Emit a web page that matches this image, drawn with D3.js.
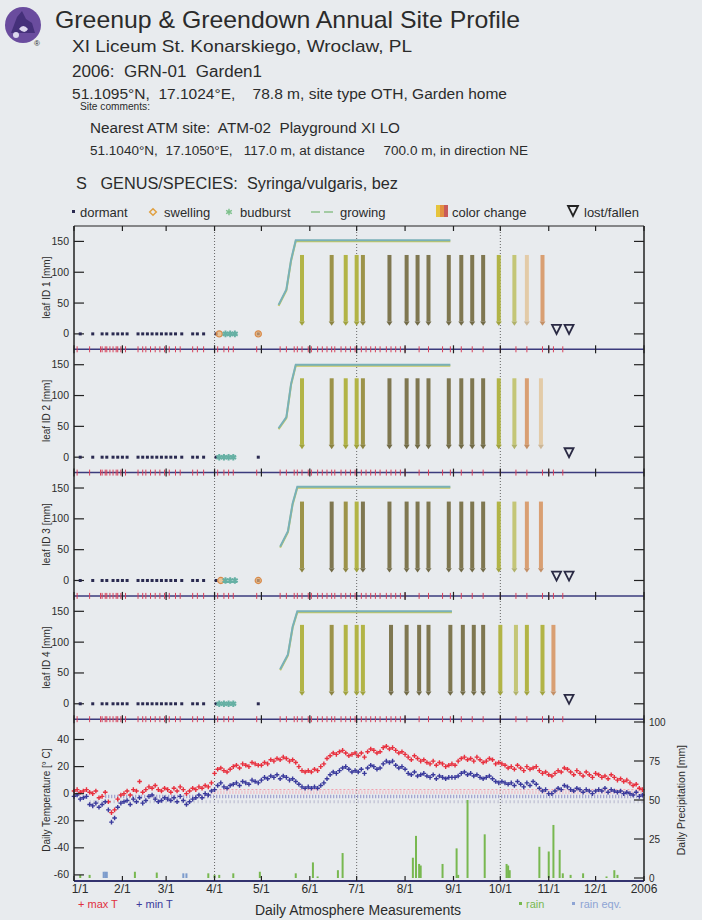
<!DOCTYPE html>
<html>
<head>
<meta charset="utf-8">
<script src="https://d3js.org/d3.v7.min.js"></script>
<style>
    body { margin: 0; background: #e8ebee; }
    svg text { font-family: "Liberation Sans", Arial, sans-serif; fill: #2b2b2b; }
</style>
</head>
<body>
<script>
// ---------- data ----------
var headerLines = [
    "Greenup & Greendown Annual Site Profile",
    "XI Liceum St. Konarskiego, Wroclaw, PL",
    "2006:  GRN-01  Garden1",
    "51.1095\u00B0N,  17.1024\u00B0E,    78.8 m, site type OTH, Garden home",
    "Site comments:",
    "Nearest ATM site:  ATM-02  Playground XI LO",
    "51.1040\u00B0N,  17.1050\u00B0E,   117.0 m, at distance     700.0 m, in direction NE",
    "S   GENUS/SPECIES:  Syringa/vulgaris, bez"
];
var legendLabels = ["dormant", "swelling", "budburst", "growing", "color change", "lost/fallen"];

var monthDays = [0, 31, 59, 90, 120, 151, 181, 212, 243, 273, 304, 334, 365];
var monthLabels = ["1/1", "2/1", "3/1", "4/1", "5/1", "6/1", "7/1", "8/1", "9/1", "10/1", "11/1", "12/1", "2006"];
var quarterDays = [90, 181, 273];

// observation visits (day of year)
var obsDays = [2,10,17,18,20,21,23,25,27,28,30,31,33,41,44,46,49,52,55,58,61,65,68,76,79,83,
    90,92,96,99,102,117,132,136,141,143,146,150,152,156,159,162,165,167,171,174,177,180,
    184,187,190,193,196,200,203,206,209,212,221,227,236,241,248,255,262,273,283,290,300,304,307,313];

var leafNames = ["leaf ID 1 [mm]", "leaf ID 2 [mm]", "leaf ID 3 [mm]", "leaf ID 4 [mm]"];
var dormant = [
    [4,12,18,21,25,28,31,34,41,44,47,50,53,56,59,62,65,69,76,79,83,91,118],
    [4,12,18,21,25,28,31,34,41,44,47,50,53,56,59,62,65,69,76,79,83,91,118],
    [4,12,18,21,25,28,31,34,41,44,47,50,53,56,59,62,65,69,76,79,83,91,118],
    [4,12,18,21,25,28,31,34,41,44,47,50,53,56,59,62,65,69,76,79,83,91,118]
];
var swelling = [[93, 118], [], [94, 118], []];
var budburst = [[97, 100, 103], [93, 96, 99, 102], [97, 100, 103], [93, 96, 99, 102]];
var growing = [
    [[131,47],[136,72],[139,120],[142,152],[241,152]],
    [[131,47],[136,65],[139,119],[142,150],[241,150]],
    [[132,55],[137,80],[140,125],[143,152],[241,152]],
    [[132,56],[137,80],[140,125],[143,150],[242,150]]
];
var ccDays = [
    [146,165,174,181,185,202,213,220,227,240,248,255,262,272,282,290,300],
    [146,165,174,181,185,202,213,220,227,240,248,255,262,272,282,290,299],
    [146,165,174,181,185,202,213,220,227,240,248,255,262,272,282,290,299],
    [146,165,174,181,185,203,213,221,227,241,249,256,262,273,283,290,300,307]
];
var ccStage = [
    ["g","o","g","g","o","b","b","b","b","b","b","b","b","g","l","p","t"],
    ["g","o","g","g","o","b","b","b","b","b","b","b","b","g","l","t","p"],
    ["o","b","o","g","b","b","b","b","b","b","b","b","b","g","l","t","t"],
    ["g","o","g","g","g","b","b","b","b","b","b","b","b","g","l","g","g","t"]
];
var lost = [[309, 317], [317], [309, 317], [317]];

// daily temperature, every 2nd day from 1/1 (deg C)
var tMax = [
    2,3,1,2,3,1,0,2,-3,-2,1,-6,-14,-12,-4,-1,
    0,2,-1,3,2,9,1,3,5,4,6,3,2,4,
    3,1,4,2,5,3,0,2,4,3,5,4,6,5,8,
    15,18,19,17,16,18,20,21,19,22,21,20,23,22,21,
    21,23,22,25,24,26,25,27,26,24,25,23,20,17,16,17,
    16,18,17,20,22,26,28,30,29,31,32,30,28,29,30,
    28,30,27,31,33,32,30,31,34,35,33,34,32,30,31,29,
    27,25,28,26,24,25,23,22,24,21,23,22,20,21,22,
    21,24,26,27,25,26,24,27,25,23,24,26,25,22,23,
    22,21,19,20,18,21,19,17,20,18,19,20,17,15,16,14,
    13,15,17,16,19,18,16,14,17,15,13,16,14,12,15,
    14,12,13,11,14,12,10,11,9,10,8,6,7,4,3
];
var tMin = [
    -2,-1,-4,-3,-2,-8,-9,-7,-10,-8,-6,-12,-21,-18,-10,-7,
    -6,-5,-8,-4,-6,-3,-7,-5,-2,-1,-4,-6,-5,-3,
    -4,-5,-3,-6,-2,-5,-8,-6,-4,-3,-1,-3,0,-1,2,
    3,6,8,5,4,6,7,8,6,9,8,7,10,9,8,
    10,12,11,13,12,14,11,13,12,10,11,9,7,5,4,5,
    4,5,4,6,8,11,14,16,15,17,19,20,18,16,17,
    16,18,15,19,21,20,18,19,22,24,23,24,21,19,20,18,
    15,14,16,13,14,15,13,12,14,11,13,12,11,12,12,
    12,13,15,16,14,15,13,14,12,11,12,13,11,9,8,
    9,8,7,8,6,9,7,5,8,6,9,7,4,2,3,0,
    0,2,4,3,6,5,3,2,4,3,1,3,2,0,2,
    3,2,4,1,3,2,1,2,0,1,0,-1,1,-2,-1
];
// faint reference levels (deg C) and their first day
var refLevels = [3, 1, -2, -6];
var refFrom = [88, 88, 20, 10];

// precipitation (mm)
var rainDays = [4,10,39,53,86,90,93,102,119,142,153,156,169,172,217,219,221,222,236,245,246,252,263,277,278,279,298,304,307,311,313,318,326,341,346,348];
var rainMm   = [2,2,4,3.5,3,2,2,3,4,3,10,1,5,16,13,27,9,8,9,19,2,50,28,9,8,5,20,17,34,18,3,2,3,1,5,2];
var rainEqDays = [19, 20, 21, 70, 72];
var rainEqMm   = [4, 4, 4, 3, 3];

// ---------- layout ----------
var svg = d3.select("body").append("svg").attr("width", 702).attr("height", 920);
var x = d3.scaleLinear().domain([0, 365]).range([74, 644]);
var top0 = 226, ph = 123.3;
var tTop = top0 + 4 * ph, tBot = 881;
var yT = d3.scaleLinear().domain([-64.5, 55]).range([tBot, tTop]);
var yP = d3.scaleLinear().domain([0, 100]).range([878, 722]);
var stageColor = d3.scaleOrdinal()
    .domain(["g", "o", "b", "l", "p", "t"])
    .range(["#b2b446", "#9c9349", "#7f7750", "#c4c676", "#e3cba8", "#d99f72"]);

// logo
var logo = svg.append("g").attr("transform", "translate(23,25)");
logo.append("circle").attr("r", 18).attr("fill", "#6a4c9e");
logo.append("path").attr("d", "M-12,8 L-6,-8 L-1,-14 L3,-6 L9,-2 L12,8 Z").attr("fill", "#45307a");
logo.append("path").attr("d", "M-4,4 q4,-6 9,0 q-3,6 -9,0").attr("fill", "#ddd8ee");
logo.append("circle").attr("cx", -7).attr("cy", 10).attr("r", 3).attr("fill", "#ddd8ee");
svg.append("text").attr("x", 34).attr("y", 46).style("font-size", "8px").text("\u00AE");

// header text
var hdrX = [55, 72, 72, 72, 80, 90, 90, 76],
    hdrY = [28, 52, 77, 99, 110, 133, 155, 189],
    hdrS = [24, 17, 16, 14, 10, 14, 12, 16],
    hdrW = [465, 340, 190, 435, 70, 310, 438, 322];
svg.selectAll("text.hdr").data(headerLines).enter().append("text")
    .attr("class", "hdr")
    .attr("x", function(d, i) { return hdrX[i]; })
    .attr("y", function(d, i) { return hdrY[i]; })
    .attr("textLength", function(d, i) { return hdrW[i]; })
    .attr("lengthAdjust", "spacingAndGlyphs")
    .style("font-size", function(d, i) { return hdrS[i] + "px"; })
    .style("white-space", "pre")
    .text(function(d) { return d; });

// legend
var lg = svg.append("g");
var lgY = 212;
lg.append("rect").attr("x", 72).attr("y", lgY - 2).attr("width", 3).attr("height", 3).attr("fill", "#2a2a50");
lg.append("path").attr("transform", "translate(153," + lgY + ")")
    .attr("d", d3.symbol(d3.symbolDiamond2, 28)()).attr("fill", "none").attr("stroke", "#e0a040").attr("stroke-width", 1.5);
lg.append("path").attr("transform", "translate(229," + lgY + ")")
    .attr("d", d3.symbol(d3.symbolAsterisk, 30)()).attr("stroke", "#7cc08a").attr("stroke-width", 1.4);
lg.append("line").attr("x1", 311).attr("x2", 320).attr("y1", lgY).attr("y2", lgY).attr("stroke", "#8cc08a").attr("stroke-width", 1.5);
lg.append("line").attr("x1", 324).attr("x2", 333).attr("y1", lgY).attr("y2", lgY).attr("stroke", "#8cc08a").attr("stroke-width", 1.5);
["#e6c43c", "#e39040", "#c85a5a"].forEach(function(c, i) {
    lg.append("rect").attr("x", 436 + i * 4).attr("y", lgY - 7).attr("width", 4).attr("height", 12).attr("fill", c);
});
lg.append("path").attr("d", "M568,206 L578,206 L573,216 Z").attr("fill", "none").attr("stroke", "#222").attr("stroke-width", 1.8);
var lgX = [80, 164, 240, 340, 452, 584];
lg.selectAll("text").data(legendLabels).enter().append("text")
    .attr("x", function(d, i) { return lgX[i]; })
    .attr("y", lgY + 5)
    .style("font-size", "13px")
    .text(function(d) { return d; });

// quarter dotted lines
svg.selectAll("line.q").data(quarterDays).enter().append("line")
    .attr("x1", function(d) { return x(d); }).attr("x2", function(d) { return x(d); })
    .attr("y1", top0).attr("y2", tBot)
    .attr("stroke", "#666").attr("stroke-width", 1).attr("stroke-dasharray", "1,2");

// ---------- leaf panels ----------
leafNames.forEach(function(name, p) {
    var t = top0 + p * ph, b = t + ph;
    var y = d3.scaleLinear().domain([-25, 175]).range([b, t]);
    var g = svg.append("g");

    // y ticks
    [0, 50, 100, 150].forEach(function(v) {
        g.append("line").attr("x1", 74).attr("x2", 84).attr("y1", y(v)).attr("y2", y(v)).attr("stroke", "#222").attr("stroke-width", 1.2);
        g.append("line").attr("x1", 634).attr("x2", 644).attr("y1", y(v)).attr("y2", y(v)).attr("stroke", "#222").attr("stroke-width", 1.2);
        g.append("text").attr("x", 69).attr("y", y(v) + 3.5).attr("text-anchor", "end").style("font-size", "10.5px").text(v);
    });
    g.append("text")
        .attr("transform", "translate(50," + ((t + b) / 2) + ") rotate(-90)")
        .attr("text-anchor", "middle").style("font-size", "10px").text(name);

    // growing line
    var line = d3.line().x(function(d) { return x(d[0]); }).y(function(d) { return y(d[1]); });
    g.append("path").datum(growing[p]).attr("d", line).attr("transform", "translate(0,1)")
        .attr("fill", "none").attr("stroke", "#c4c862").attr("stroke-width", 2);
    g.append("path").datum(growing[p]).attr("d", line)
        .attr("fill", "none").attr("stroke", "#78b0b8").attr("stroke-width", 2);

    // color change bars
    var cc = ccDays[p].map(function(d, i) { return { day: d, st: ccStage[p][i] }; });
    g.selectAll("rect.cc").data(cc).enter().append("rect")
        .attr("x", function(d) { return x(d.day) - 2; })
        .attr("y", y(128))
        .attr("width", 4)
        .attr("height", y(20) - y(128))
        .attr("fill", function(d) { return stageColor(d.st); });
    g.selectAll("path.arr").data(cc).enter().append("path")
        .attr("d", function(d) {
            var cx = x(d.day);
            return "M" + (cx - 3) + "," + y(20) + "L" + (cx + 3) + "," + y(20) + "L" + cx + "," + y(13) + "Z";
        })
        .attr("fill", function(d) { return d3.color(stageColor(d.st)).darker(0.3); });

    // dormant
    g.selectAll("rect.dm").data(dormant[p]).enter().append("rect")
        .attr("x", function(d) { return x(d) - 1.5; }).attr("y", y(0) - 1.5)
        .attr("width", 3).attr("height", 3).attr("fill", "#2a2a50");
    // swelling
    g.selectAll("path.sw").data(swelling[p]).enter().append("path")
        .attr("transform", function(d) { return "translate(" + x(d) + "," + y(0) + ")"; })
        .attr("d", d3.symbol(d3.symbolCircle, 30)())
        .attr("fill", "#e8b070").attr("fill-opacity", 0.7).attr("stroke", "#d98a4a").attr("stroke-width", 1.2);
    // budburst
    g.selectAll("path.bb").data(budburst[p]).enter().append("path")
        .attr("transform", function(d) { return "translate(" + x(d) + "," + y(0) + ")"; })
        .attr("d", d3.symbol(d3.symbolAsterisk, 30)())
        .attr("stroke", "#66b0a4").attr("stroke-width", 2);
    // lost / fallen
    g.selectAll("path.lost").data(lost[p]).enter().append("path")
        .attr("d", function(d) {
            var cx = x(d), cy = y(8);
            return "M" + (cx - 4.5) + "," + (cy - 4) + "L" + (cx + 4.5) + "," + (cy - 4) + "L" + cx + "," + (cy + 5) + "Z";
        })
        .attr("fill", "none").attr("stroke", "#2a2a44").attr("stroke-width", 1.8);

    // bottom row with observation ticks
    g.append("line").attr("x1", 74).attr("x2", 644).attr("y1", b).attr("y2", b).attr("stroke", "#3b3b7c").attr("stroke-width", 1.5);
    g.selectAll("line.obs").data(obsDays).enter().append("line")
        .attr("x1", function(d) { return x(d); }).attr("x2", function(d) { return x(d); })
        .attr("y1", b - 3).attr("y2", b + 3).attr("stroke", "#d8405a").attr("stroke-width", 1);
    g.selectAll("line.mt").data(monthDays).enter().append("line")
        .attr("x1", function(d) { return x(d); }).attr("x2", function(d) { return x(d); })
        .attr("y1", b - 4).attr("y2", b + 4).attr("stroke", "#222").attr("stroke-width", 1.2);
});

// top border with month ticks
svg.append("line").attr("x1", 74).attr("x2", 644).attr("y1", top0).attr("y2", top0).attr("stroke", "#222").attr("stroke-width", 1.2);
svg.selectAll("line.tt").data(monthDays).enter().append("line")
    .attr("x1", function(d) { return x(d); }).attr("x2", function(d) { return x(d); })
    .attr("y1", top0).attr("y2", top0 + 5).attr("stroke", "#222").attr("stroke-width", 1.2);

// ---------- atmosphere panel ----------
var ga = svg.append("g");
// reference hatch lines
var refStroke = ["#f29aa8", "#f2b4bc", "#9090c8", "#b4b4cc"],
    refDash = ["2,2", "1,2", "1,2", "1,3"],
    refW = [1, 3.5, 3.5, 3];
refLevels.forEach(function(v, i) {
    ga.append("line").attr("x1", x(refFrom[i])).attr("x2", x(365)).attr("y1", yT(v)).attr("y2", yT(v))
        .attr("stroke", refStroke[i]).attr("stroke-width", refW[i]).attr("stroke-dasharray", refDash[i]);
});

// rain bars
ga.selectAll("rect.rain").data(rainDays).enter().append("rect")
    .attr("x", function(d) { return x(d) - 1; })
    .attr("y", function(d, i) { return yP(rainMm[i]); })
    .attr("width", 2)
    .attr("height", function(d, i) { return yP(0) - yP(rainMm[i]); })
    .attr("fill", "#78b850");
ga.selectAll("rect.req").data(rainEqDays).enter().append("rect")
    .attr("x", function(d) { return x(d) - 1; })
    .attr("y", function(d, i) { return yP(rainEqMm[i]); })
    .attr("width", 2)
    .attr("height", function(d, i) { return yP(0) - yP(rainEqMm[i]); })
    .attr("fill", "#7d9ccc");

// temperature crosses
var plus = "M-2.3,0H2.3M0,-2.3V2.3";
ga.selectAll("path.tmax").data(tMax).enter().append("path")
    .attr("transform", function(d, i) { return "translate(" + x(i * 2) + "," + yT(d) + ")"; })
    .attr("d", plus).attr("stroke", "#e8303e").attr("stroke-width", 1.4);
ga.selectAll("path.tmin").data(tMin).enter().append("path")
    .attr("transform", function(d, i) { return "translate(" + x(i * 2) + "," + yT(d) + ")"; })
    .attr("d", plus).attr("stroke", "#3a3a9c").attr("stroke-width", 1.4);

// axes ticks
[40, 20, 0, -20, -40, -60].forEach(function(v) {
    ga.append("line").attr("x1", 74).attr("x2", 84).attr("y1", yT(v)).attr("y2", yT(v)).attr("stroke", "#222").attr("stroke-width", 1.2);
    ga.append("text").attr("x", 69).attr("y", yT(v) + 3.5).attr("text-anchor", "end").style("font-size", "10.5px").text(v);
});
[0, 25, 50, 75, 100].forEach(function(v) {
    ga.append("line").attr("x1", 634).attr("x2", 644).attr("y1", yP(v)).attr("y2", yP(v)).attr("stroke", "#222").attr("stroke-width", 1.2);
    ga.append("text").attr("x", 649).attr("y", yP(v) + 3.5).style("font-size", "10px").text(v);
});
ga.append("text").attr("transform", "translate(50," + ((tTop + tBot) / 2) + ") rotate(-90)")
    .attr("text-anchor", "middle").style("font-size", "10px").text("Daily Temperature [\u00B0 C]");
ga.append("text").attr("transform", "translate(685," + ((tTop + tBot) / 2) + ") rotate(-90)")
    .attr("text-anchor", "middle").style("font-size", "10.5px").text("Daily Precipitation [mm]");

// bottom axis
ga.append("line").attr("x1", 74).attr("x2", 644).attr("y1", tBot).attr("y2", tBot).attr("stroke", "#33336e").attr("stroke-width", 2);
ga.selectAll("line.bt").data(monthDays).enter().append("line")
    .attr("x1", function(d) { return x(d); }).attr("x2", function(d) { return x(d); })
    .attr("y1", tBot - 5).attr("y2", tBot).attr("stroke", "#222").attr("stroke-width", 1.2);
ga.selectAll("text.ml").data(monthLabels).enter().append("text")
    .attr("x", function(d, i) { return x(monthDays[i]) + (i === 0 ? 6 : 0); })
    .attr("y", 893)
    .attr("text-anchor", "middle")
    .style("font-size", "12px")
    .text(function(d) { return d; });

// bottom legends
ga.append("text").attr("x", 78).attr("y", 908).style("font-size", "11px").style("fill", "#e0303e").text("+ max T");
ga.append("text").attr("x", 136).attr("y", 908).style("font-size", "11px").style("fill", "#3a3a9c").text("+ min T");
ga.append("text").attr("x", 358).attr("y", 915).attr("text-anchor", "middle").style("font-size", "14px").text("Daily Atmosphere Measurements");
ga.append("rect").attr("x", 519).attr("y", 902).attr("width", 3).attr("height", 3).attr("fill", "#78b850");
ga.append("text").attr("x", 526).attr("y", 908).style("font-size", "11px").style("fill", "#78b850").text("rain");
ga.append("rect").attr("x", 572).attr("y", 902).attr("width", 3).attr("height", 3).attr("fill", "#8ea4d4");
ga.append("text").attr("x", 580).attr("y", 908).style("font-size", "11px").style("fill", "#8ea4d4").text("rain  eqv.");

// side borders
[74, 644].forEach(function(xx) {
    svg.append("line").attr("x1", xx).attr("x2", xx).attr("y1", top0).attr("y2", tBot).attr("stroke", "#222").attr("stroke-width", 1.5);
});
</script>
</body>
</html>
